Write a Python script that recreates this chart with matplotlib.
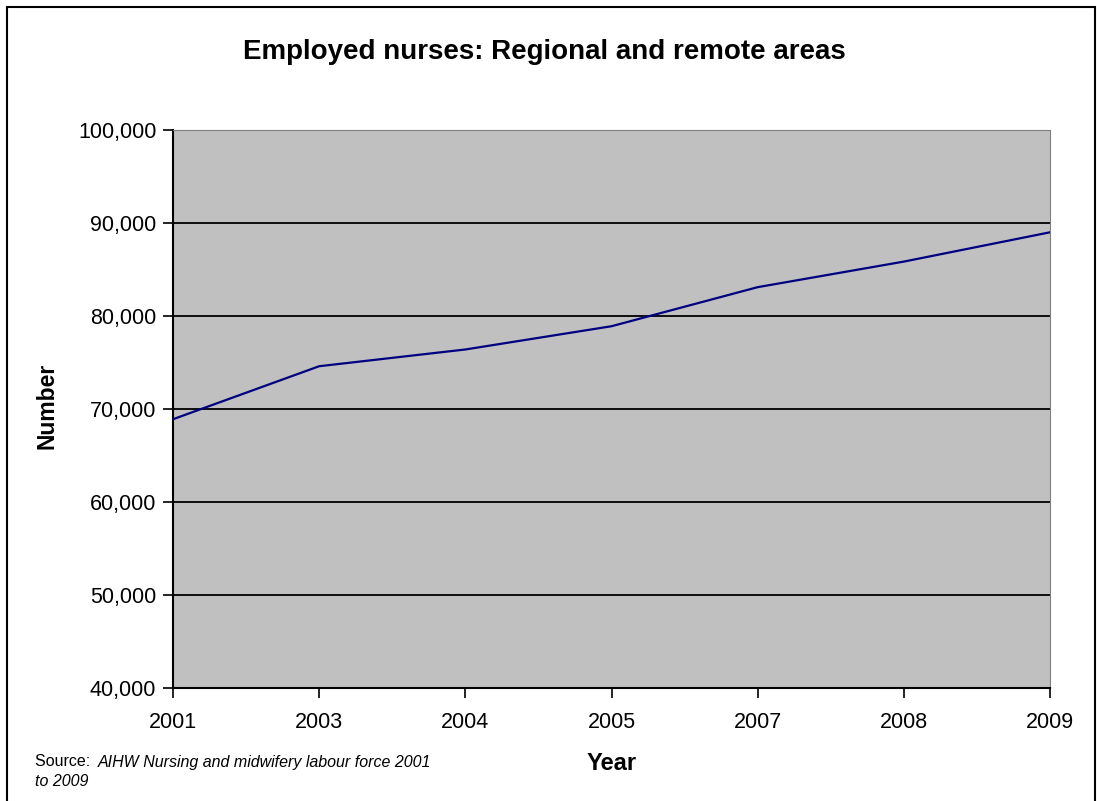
import matplotlib
matplotlib.use("Agg")
import matplotlib.pyplot as plt
from matplotlib.patches import Rectangle
from matplotlib.ticker import FuncFormatter

years = ["2001", "2003", "2004", "2005", "2007", "2008", "2009"]
nurses = [68900, 74600, 76400, 78900, 83100, 85850, 89000]

plt.rcParams["font.family"] = ["Liberation Sans", "DejaVu Sans"]

fig = plt.figure(figsize=(10.97, 8.01), dpi=100)
ax = fig.add_axes([173/1097, 113/801, 877/1097, 558/801])
ax.set_facecolor("#c0c0c0")

xpos = list(range(len(years)))
ax.plot(xpos, nurses, color="#000080", linewidth=1.6, zorder=3)

ax.set_xlim(0, len(years) - 1)
ax.set_ylim(40000, 100000)
ax.set_xticks(xpos)
ax.set_xticklabels(years)
ax.set_yticks(range(40000, 100001, 10000))
ax.yaxis.set_major_formatter(FuncFormatter(lambda v, p: f"{int(v):,}"))
ax.tick_params(axis="both", direction="out", length=7, width=1.2, labelsize=15.5, colors="black")
ax.tick_params(axis="x", pad=10)
ax.tick_params(axis="y", pad=5)

for v in range(50000, 100000, 10000):
    ax.axhline(v, color="black", linewidth=1.3, zorder=2)

ax.spines["left"].set_linewidth(1.5)
ax.spines["bottom"].set_linewidth(1.5)
ax.spines["top"].set_color("#808080")
ax.spines["right"].set_color("#808080")

ax.set_ylabel("Number", fontsize=16.5, fontweight="bold")
ax.yaxis.label.set_va("center")
ax.yaxis.set_label_coords((46.5 - 173) / 877, (688 - 406) / 558)
ax.set_xlabel("Year", fontsize=17, fontweight="bold")
ax.xaxis.label.set_va("center")
ax.xaxis.set_label_coords(0.5, -(763 - 688) / 558)

fig.text(544/1097, 1 - 52/801, "Employed nurses: Regional and remote areas",
         fontsize=20, fontweight="bold", ha="center", va="center")

src = fig.text(35/1097, 1 - 762/801, "Source: ", fontsize=11.5, va="center")
fig.canvas.draw()
bb = src.get_window_extent()
fig.text(bb.x1 / fig.bbox.width + 3/1097, 1 - 762/801,
         "AIHW Nursing and midwifery labour force 2001",
         fontsize=11.5, style="italic", va="center")
fig.text(35/1097, 1 - 782/801, "to 2009", fontsize=11.5, style="italic", va="center")

fig.add_artist(Rectangle((7/1097, -0.05), 1088/1097, 1.05 - 7/801,
                         transform=fig.transFigure, fill=False,
                         edgecolor="black", linewidth=1.5))

fig.savefig("out.png", dpi=100)
